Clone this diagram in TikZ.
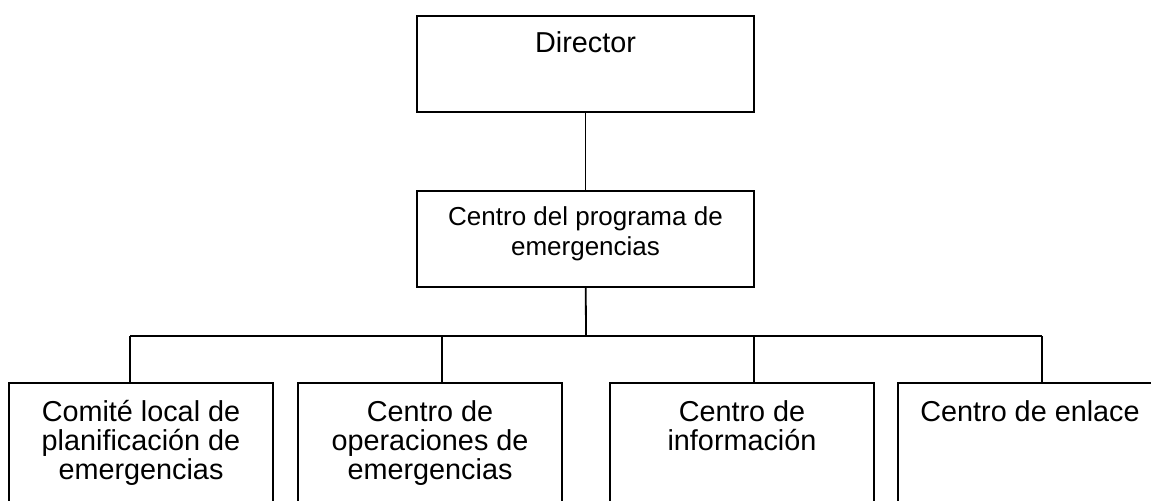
\documentclass[tikz,border=0pt]{standalone}
\usepackage{fontspec}
\setmainfont{Liberation Sans}
\begin{document}
\begin{tikzpicture}[x=0.5pt,y=-0.5pt,line width=0.9pt,
  caja/.style={draw,rectangle,inner sep=0pt,minimum width=132pt,minimum height=48pt},
  rotulo/.style={align=center,anchor=base,inner sep=0pt,font=\fontsize{14.4}{14.6}\selectfont}]
\path[use as bounding box] (0,0) rectangle (1151,500);
\clip (0,0) rectangle (1151,500);

\node[caja,minimum width=168.5pt] (dir) at (585.5,64) {};
\node[rotulo] (tdir) at ([yshift=-18.5pt]dir.north) {Director};
\node[caja,minimum width=168.5pt] (prog) at (585.5,239) {};
\node[rotulo,font=\fontsize{13}{15}\selectfont] (tprog) at ([yshift=-32.8pt]prog.north) {Centro del programa de\\emergencias};
\draw (dir) -- (prog);
\coordinate (barra) at (586,336);
\draw (prog) -- (barra);

\foreach \cx/\dx/\dy/\txt [count=\i] in {141/130/48.7/{Comité local de\\planificación de\\emergencias},
  430/442/48.7/{Centro de\\operaciones de\\emergencias},
  742/754/34.1/{Centro de\\información},
  1030/1042/19.5/{Centro de enlace}}
{
  \node[caja,minimum height=70pt] (c\i) at (\cx,453) {};
  \node[rotulo] (t\i) at ([yshift=-\dy pt]c\i.north) {\txt};
  \coordinate (d\i) at (\dx,336);
  \draw (d\i) -- (d\i |- c\i.north);
}
\draw (d1) -- (d4);
\end{tikzpicture}
\end{document}
